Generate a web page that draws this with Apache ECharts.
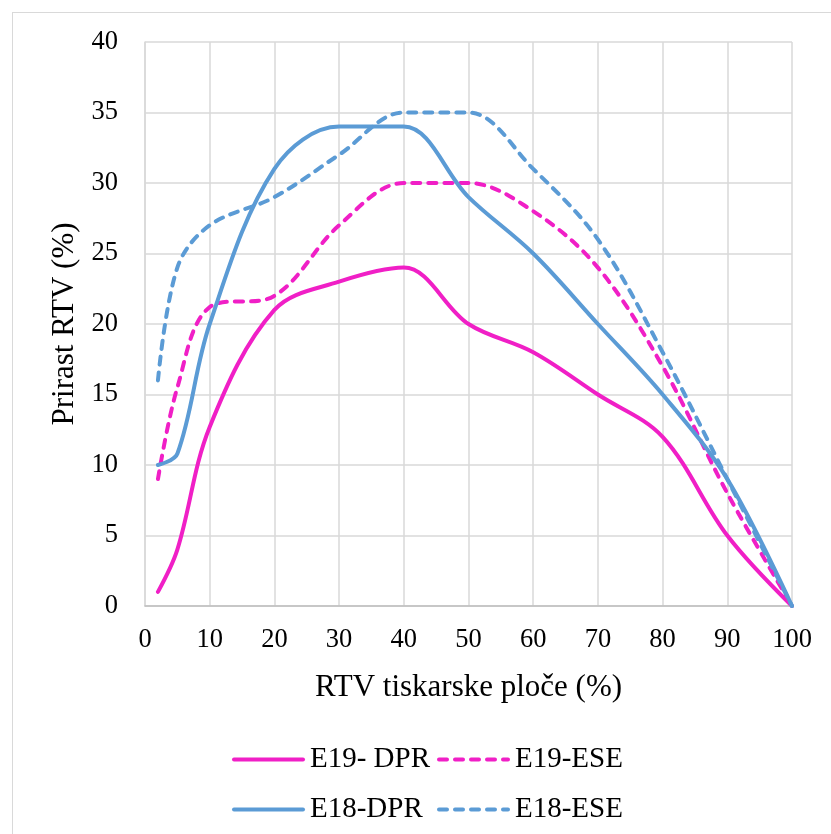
<!DOCTYPE html>
<html>
<head>
<meta charset="utf-8">
<script src="https://cdn.jsdelivr.net/npm/echarts@6/dist/echarts.min.js"></script>
<style>
  html, body { margin: 0; padding: 0; background: #fff; overflow: hidden; }
  #frame { position: absolute; left: 12px; top: 12px; width: 840px; height: 840px; border: 1px solid #d9d9d9; }
  #chart { position: absolute; left: 0; top: 0; width: 831px; height: 834px; }
</style>
</head>
<body>
<div id="frame"></div>
<div id="chart"></div>
<script>
const xValues = [2, 5, 10, 20, 30, 40, 50, 60, 70, 80, 90, 100]
const e19Dpr = [1, 4, 12.7, 21, 23, 24, 20, 18, 15, 12, 5, 0]
const e19Ese = [9, 15.5, 21.2, 22, 27, 30, 30, 28, 24, 17, 8, 0]
const e18Dpr = [10, 10.8, 20, 31, 34, 34, 29, 25, 20, 15, 9, 0]
const e18Ese = [16, 24, 27, 29, 32, 35, 35, 31, 26, 18, 9, 0]
const xTicks = [0, 10, 20, 30, 40, 50, 60, 70, 80, 90, 100]
const yTicks = [0, 5, 10, 15, 20, 25, 30, 35, 40]
const names = ['E19- DPR', 'E19-ESE', 'E18-DPR', 'E18-ESE']

const PINK = '#f01fc6'
const BLUE = '#5b9bd5'
const FONT = '"Liberation Serif", "Times New Roman", serif'

const pairs = ys => xValues.map((x, i) => [x, ys[i]])

function mkSeries(name, ys, color, dashed) {
  return {
    name, type: 'line', data: pairs(ys), smooth: 0.35,
    symbol: 'none', showSymbol: false,
    lineStyle: { color, width: 4, type: dashed ? [8, 8] : 'solid', cap: 'round' },
    itemStyle: { color }
  }
}

function mkLegend(name, left, top) {
  return {
    data: [name], left, top,
    itemWidth: 69, itemHeight: 16, itemGap: 0,
    itemStyle: { opacity: 0 },
    lineStyle: { width: 4, cap: 'round' },
    textStyle: { fontSize: 29, color: '#000', fontFamily: FONT, padding: [0, 0, 0, 2] }
  }
}

const chart = echarts.init(document.getElementById('chart'))
chart.setOption({
  animation: false,
  textStyle: { fontFamily: FONT },
  grid: { left: 145, right: 39, top: 42, bottom: 228 },
  xAxis: {
    type: 'value', min: xTicks[0], max: xTicks[xTicks.length - 1], interval: 10,
    name: 'RTV tiskarske ploče (%)', nameLocation: 'middle', nameGap: 66,
    nameTextStyle: { fontSize: 31, color: '#000', fontFamily: FONT },
    axisLine: { show: true, lineStyle: { color: '#bfbfbf', width: 1.5 } },
    axisTick: { show: false },
    axisLabel: { color: '#000', fontSize: 26.5, margin: 21, fontFamily: FONT },
    splitLine: { show: true, lineStyle: { color: '#d9d9d9', width: 1.5 } }
  },
  yAxis: {
    type: 'value', min: yTicks[0], max: yTicks[yTicks.length - 1], interval: 5,
    name: 'Prirast RTV (%)', nameLocation: 'middle', nameGap: 64,
    nameTextStyle: { fontSize: 31, color: '#000', fontFamily: FONT },
    axisLine: { show: true, lineStyle: { color: '#d9d9d9', width: 1.5 } },
    axisTick: { show: false },
    axisLabel: { color: '#000', fontSize: 26.5, margin: 27, fontFamily: FONT },
    splitLine: { show: true, lineStyle: { color: '#d9d9d9', width: 1.5 } }
  },
  legend: [
    mkLegend(names[0], 227, 740),
    mkLegend(names[1], 432, 740),
    mkLegend(names[2], 227, 790),
    mkLegend(names[3], 432, 790)
  ],
  series: [
    mkSeries(names[0], e19Dpr, PINK, false),
    mkSeries(names[1], e19Ese, PINK, true),
    mkSeries(names[2], e18Dpr, BLUE, false),
    mkSeries(names[3], e18Ese, BLUE, true)
  ]
})
</script>
</body>
</html>
